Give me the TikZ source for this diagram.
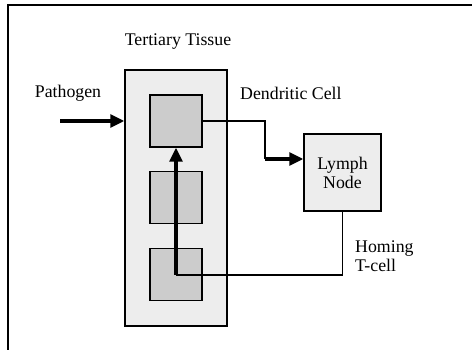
\documentclass[tikz,border=0pt]{standalone}
\usepackage{fontspec}
\setmainfont{Liberation Serif}
\usetikzlibrary{arrows.meta}
\begin{document}
\begin{tikzpicture}[x=1pt,y=-1pt,
  lbl/.style={font=\fontsize{17.8}{20}\selectfont,inner sep=0pt},
  tissue/.style={draw,line width=1.5pt,fill=black!7,inner sep=0pt},
  cellbox/.style={draw,line width=1.5pt,fill=black!20,inner sep=0pt,minimum width=52pt,minimum height=52pt},
  thin/.style={line width=1.2pt},
  thick/.style={line width=3.2pt},
  tip/.style={-{Triangle[length=14pt,width=13pt]}}]
\useasboundingbox (0,0) rectangle (472,350);
\draw[line width=1.8pt] (8,350) -- (8,5) -- (472,5);
\node[tissue,minimum width=102pt,minimum height=256pt] (tt) at (176,198) {};
\node[cellbox] (c1) at (176,121) {};
\node[cellbox] (c2) at (176,197.5) {};
\node[cellbox] (c3) at (176,274.5) {};
\node[tissue,minimum width=77pt,minimum height=77pt,align=center,lbl] (ln) at (342.5,172.5) {Lymph\\[-1pt]Node};
\node[lbl] (tlab) at (178,42) {Tertiary Tissue};
\node[lbl] (plab) at (68,93) {Pathogen};
\node[lbl,anchor=west] (dlab) at (240,93) {Dendritic Cell};
\node[lbl,anchor=west,align=left] (hlab) at (355,256.5) {Homing\\[-1pt]T-cell};
\coordinate (ps) at (60,121);
\coordinate (d1) at (265,121);
\coordinate (d2) at (265,159);
\coordinate (h1) at (342.5,275);
\coordinate (h2) at (176,275);
\draw[thick,tip] (ps) -- (tt.west |- ps);
\draw[thin] (c1.east) -- (d1) -- (d2);
\draw[thick,tip] (d2) -- (ln.west |- d2);
\draw[thin] (ln.south) -- (h1) -- (h2);
\draw[thick,tip] (h2) -- (c1.south);
\end{tikzpicture}
\end{document}
